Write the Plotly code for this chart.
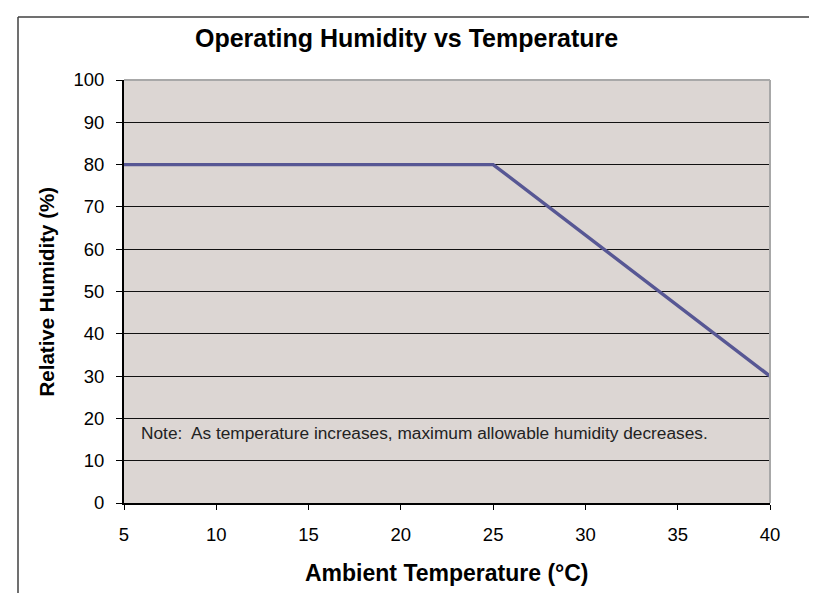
import plotly.graph_objects as go

temperature = [5, 25, 40]
humidity = [80, 80, 30]
x_ticks = [5, 10, 15, 20, 25, 30, 35, 40]
y_ticks = [0, 10, 20, 30, 40, 50, 60, 70, 80, 90, 100]

title_text = "Operating Humidity vs Temperature"
x_title = "Ambient Temperature (°C)"
y_title = "Relative Humidity (%)"
note_text = "Note:  As temperature increases, maximum allowable humidity decreases."

FONT = "Arial, Liberation Sans, sans-serif"

L, R, T, B = 116, 762, 72, 495
W, H = 817, 593
pw, ph = R - L, B - T


def px_to_paper_x(px):
    return (px - L) / pw


def px_to_paper_y(py):
    return (B - py) / ph


fig = go.Figure()
fig.add_trace(go.Scatter(
    x=temperature, y=humidity, mode="lines",
    line=dict(color="#575794", width=3.4),
    showlegend=False, hoverinfo="x+y",
))

fig.update_layout(
    width=W, height=H,
    margin=dict(l=L, r=W - R, t=T, b=H - B),
    paper_bgcolor="white",
    plot_bgcolor="#DCD6D3",
    font=dict(family=FONT, color="black"),
    xaxis=dict(
        range=[5, 40], tickvals=x_ticks, ticktext=[str(v) for v in x_ticks],
        showgrid=False, zeroline=False, showline=True, linecolor="black", linewidth=2,
        ticks="outside", ticklen=5, tickcolor="black", tickwidth=1,
        tickfont=dict(size=18.5, color="black"), ticklabelstandoff=9,
    ),
    yaxis=dict(
        range=[0, 100], tickvals=y_ticks, ticktext=[str(v) for v in y_ticks],
        showgrid=True, gridcolor="#111111", gridwidth=1, zeroline=False,
        showline=True, linecolor="black", linewidth=2,
        ticks="outside", ticklen=6, tickcolor="black", tickwidth=1,
        tickfont=dict(size=18.5, color="black"), ticklabelstandoff=8,
    ),
)

# title
fig.add_annotation(text="<b>" + title_text + "</b>", x=px_to_paper_x(398), y=px_to_paper_y(30),
                   xref="paper", yref="paper", xanchor="center", yanchor="middle",
                   showarrow=False, font=dict(size=25, color="black", family=FONT))
# axis titles
fig.add_annotation(text="<b>" + x_title + "</b>", x=0.5, y=px_to_paper_y(565),
                   xref="paper", yref="paper", xanchor="center", yanchor="middle",
                   showarrow=False, font=dict(size=23, color="black", family=FONT))
fig.add_annotation(text="<b>" + y_title + "</b>", x=px_to_paper_x(38), y=0.5,
                   xref="paper", yref="paper", xanchor="center", yanchor="middle",
                   textangle=-90, showarrow=False,
                   font=dict(size=20.5, color="black", family=FONT))

# plot area outline (top/right gray)
fig.add_shape(type="line", xref="paper", yref="paper", x0=0, x1=1, y0=1, y1=1,
              line=dict(color="#A8A8A8", width=2), layer="above")
fig.add_shape(type="line", xref="paper", yref="paper", x0=1, x1=1, y0=0, y1=1,
              line=dict(color="#A8A8A8", width=2), layer="above")

# chart frame border (top and left)
fig.add_shape(type="line", xref="paper", yref="paper",
              x0=px_to_paper_x(10), x1=px_to_paper_x(817),
              y0=px_to_paper_y(9), y1=px_to_paper_y(9),
              line=dict(color="#404040", width=1.5), layer="above")
fig.add_shape(type="line", xref="paper", yref="paper",
              x0=px_to_paper_x(10), x1=px_to_paper_x(10),
              y0=px_to_paper_y(593), y1=px_to_paper_y(9),
              line=dict(color="#404040", width=1.5), layer="above")

fig.add_annotation(text=note_text, x=5.8, y=16.5, xref="x", yref="y",
                   xanchor="left", yanchor="middle", showarrow=False,
                   font=dict(size=17.3, color="#222222", family=FONT))

fig.write_html("out.html")
